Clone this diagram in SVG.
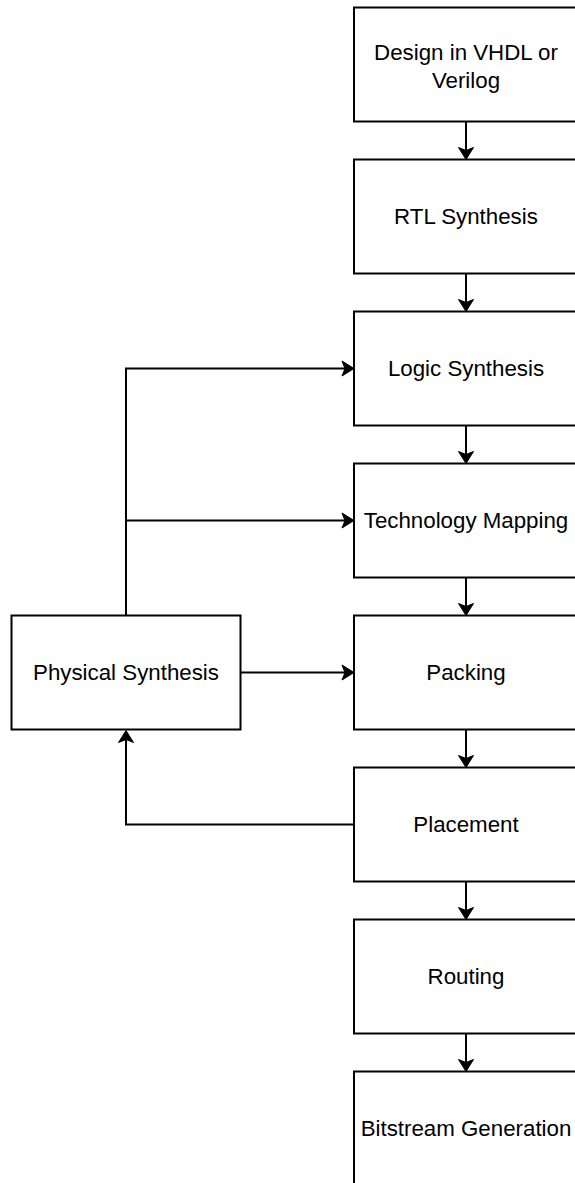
<svg xmlns="http://www.w3.org/2000/svg" width="575" height="1183" viewBox="0 0 575 1183">
<style>
.box{fill:#fff;stroke:#000;stroke-width:2}
.lbl{font-family:"Liberation Sans",Arial,sans-serif;font-size:22.3px;fill:#000;text-anchor:middle}
.edge{fill:none;stroke:#000;stroke-width:2}
</style>
<defs>
<marker id="arr" markerUnits="userSpaceOnUse" viewBox="-14 -10 16 20" refX="-9" refY="0" markerWidth="16" markerHeight="20" orient="auto">
<path d="M0,0 L-12,-7.5 L-9,0 L-12,7.5 Z" fill="#000" stroke="#000" stroke-width="1"/>
</marker>
</defs>
<rect width="575" height="1183" fill="#fff"/>
<g id="edges">
<path class="edge" d="M466,121.5 V150.5" marker-end="url(#arr)"/>
<path class="edge" d="M466,273.5 V302.5" marker-end="url(#arr)"/>
<path class="edge" d="M466,425.5 V454.5" marker-end="url(#arr)"/>
<path class="edge" d="M466,577.5 V606.5" marker-end="url(#arr)"/>
<path class="edge" d="M466,729.5 V758.5" marker-end="url(#arr)"/>
<path class="edge" d="M466,881.5 V910.5" marker-end="url(#arr)"/>
<path class="edge" d="M466,1033.5 V1062.5" marker-end="url(#arr)"/>
<path class="edge" d="M126,615.5 V368.5 H345" marker-end="url(#arr)"/>
<path class="edge" d="M126,615.5 V520.5 H345" marker-end="url(#arr)"/>
<path class="edge" d="M240.5,672.5 H345" marker-end="url(#arr)"/>
<path class="edge" d="M354,824.5 H126 V739.5" marker-end="url(#arr)"/>
</g>
<g id="design"><rect class="box" x="354" y="7.5" width="224" height="114"/><text class="lbl" x="466" y="59.5">Design in VHDL or</text><text class="lbl" x="466" y="88.3">Verilog</text></g>
<g id="rtl"><rect class="box" x="354" y="159.5" width="224" height="114"/><text class="lbl" x="466" y="224.2">RTL Synthesis</text></g>
<g id="logic"><rect class="box" x="354" y="311.5" width="224" height="114"/><text class="lbl" x="466" y="376.2">Logic Synthesis</text></g>
<g id="techmap"><rect class="box" x="354" y="463.5" width="224" height="114"/><text class="lbl" x="466" y="528.2">Technology Mapping</text></g>
<g id="packing"><rect class="box" x="354" y="615.5" width="224" height="114"/><text class="lbl" x="466" y="680.2">Packing</text></g>
<g id="placement"><rect class="box" x="354" y="767.5" width="224" height="114"/><text class="lbl" x="466" y="832.2">Placement</text></g>
<g id="routing"><rect class="box" x="354" y="919.5" width="224" height="114"/><text class="lbl" x="466" y="984.2">Routing</text></g>
<g id="bitstream"><rect class="box" x="354" y="1071.5" width="224" height="114"/><text class="lbl" x="466" y="1136.2">Bitstream Generation</text></g>
<g id="physical"><rect class="box" x="11.5" y="615.5" width="229" height="114"/><text class="lbl" x="126" y="680.2">Physical Synthesis</text></g>
</svg>
